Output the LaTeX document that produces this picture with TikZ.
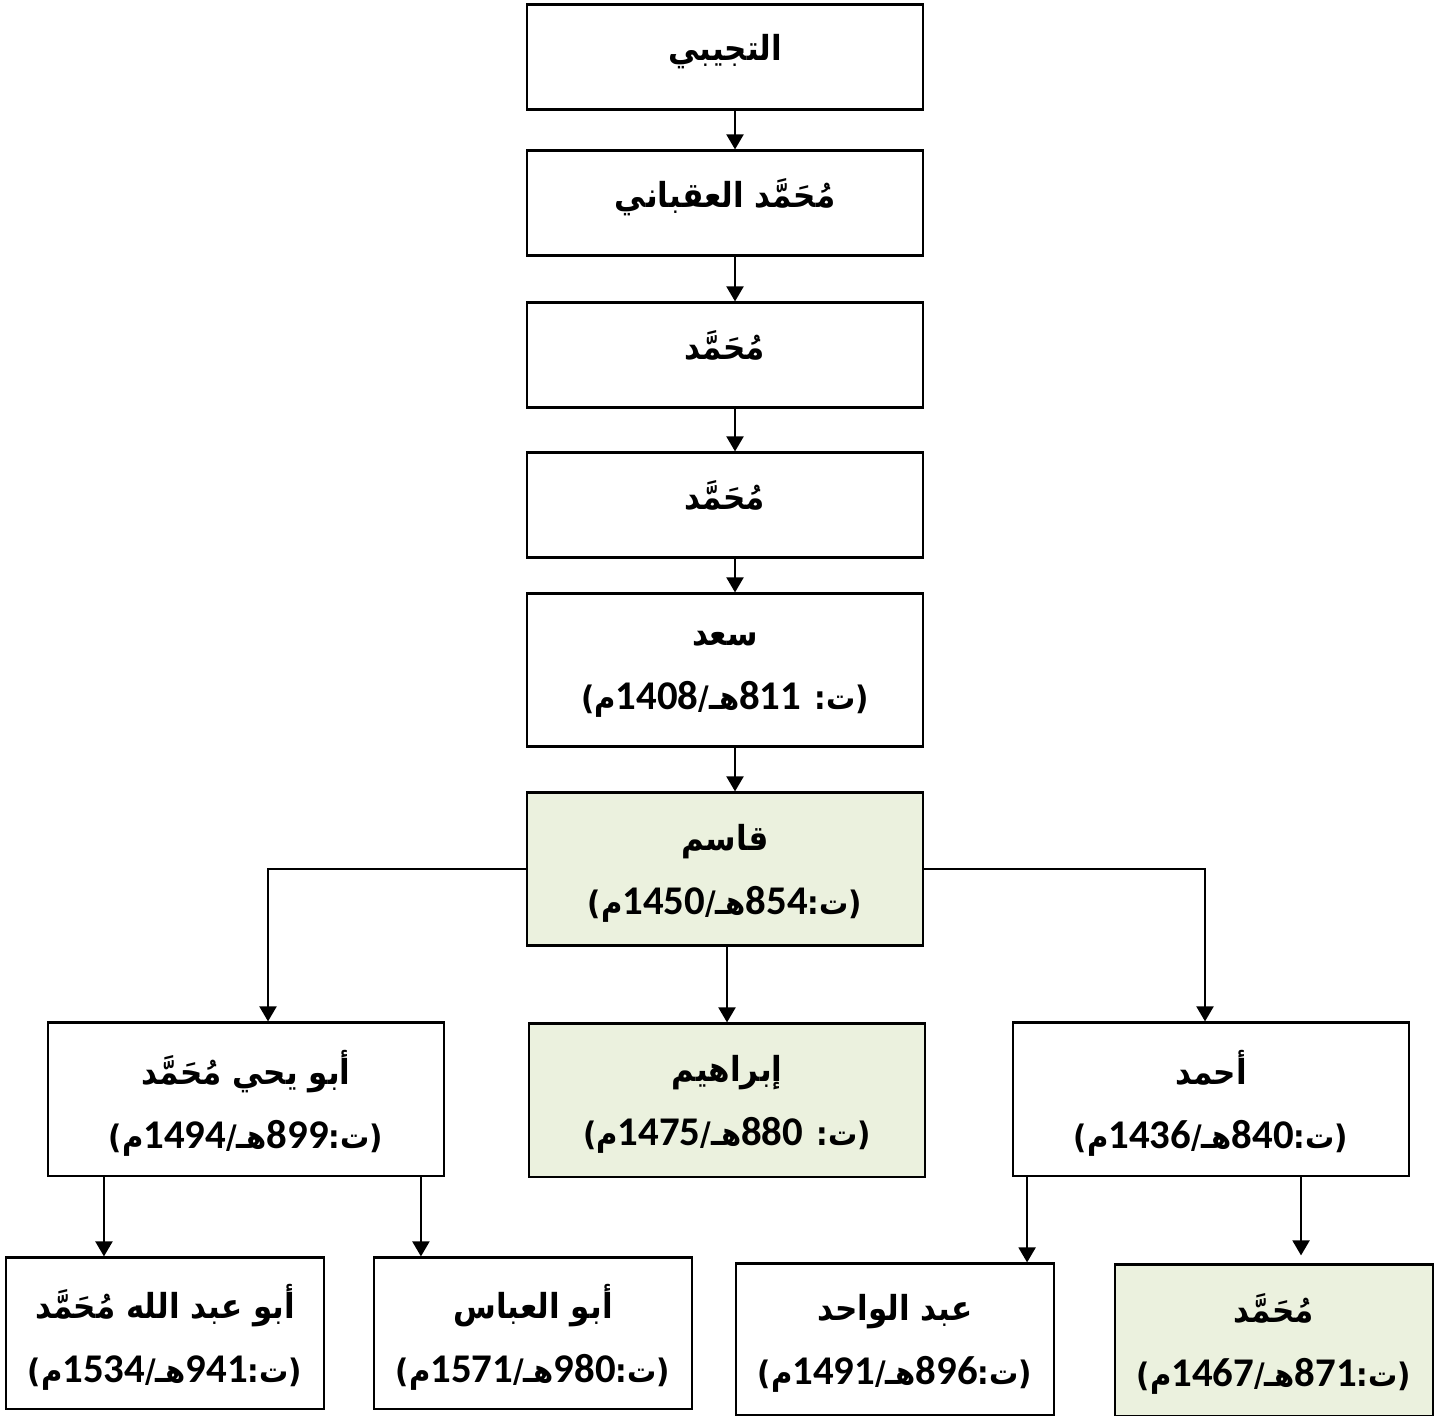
\documentclass[tikz,border=0pt]{standalone}
\usepackage{fontspec}
\TeXXeTstate=1
\newfontfamily\arabicfont[Script=Arabic]{DejaVu Sans Condensed}
\newfontfamily\numfont{Carlito}[BoldFont={Carlito Bold}, ItalicFont={Carlito Italic}, BoldItalicFont={Carlito Bold Italic}]
\usetikzlibrary{arrows.meta}
\definecolor{paleolive}{HTML}{EBF1DE}
\newcommand{\ism}[1]{{\arabicfont\bfseries\beginR #1\endR}}
\newcommand{\tarikh}[1]{{\arabicfont\bfseries\fontsize{9.2pt}{18pt}\selectfont\beginR #1\endR}}
\newcommand{\raqm}[1]{{\numfont\bfseries\upshape\fontsize{11.6pt}{12pt}\selectfont #1}}

\begin{document}
\begin{tikzpicture}[x=0.01cm, y=-0.01cm, line width=0.6pt, >={Triangle[width=0.17cm,length=0.15cm]},
    box/.style={draw, rectangle, inner sep=0pt, minimum width=3.96cm, align=center,
      font=\fontsize{9.8pt}{18.2pt}\selectfont},
    short/.style={minimum height=1.05cm, text depth=0.2cm},
    tall/.style={minimum height=1.53cm, text depth=0pt},
    kid/.style={minimum width=3.18cm, minimum height=1.51cm, text depth=0pt},
    marked/.style={fill=paleolive}]
    \useasboundingbox (0,0) rectangle (1446,1416);
    % line of fathers
    \node[box, short] (tujibi) at (725,57) {\ism{التجيبي}};
    \node[box, short] (uqbani) at (725,203) {\ism{مُحَمَّد العقباني}};
    \node[box, short] (muhA) at (725,355) {\ism{مُحَمَّد}};
    \node[box, short] (muhB) at (725,505) {\ism{مُحَمَّد}};
    \node[box, tall] (saad) at (725,670) {\ism{سعد}\\\tarikh{(ت: \raqm{811}هـ/\raqm{1408}م)}};
    \node[box, tall, marked] (qasim) at (725,869) {\ism{قاسم}\\\tarikh{(ت:\raqm{854}هـ/\raqm{1450}م)}};
    % sons of qasim
    \node[box, tall] (abuyahya) at (246,1099) {\ism{أبو يحي مُحَمَّد}\\\tarikh{(ت:\raqm{899}هـ/\raqm{1494}م)}};
    \node[box, tall, marked] (ibrahim) at (727,1100) {\ism{إبراهيم}\\\tarikh{(ت: \raqm{880}هـ/\raqm{1475}م)}};
    \node[box, tall] (ahmad) at (1211,1099) {\ism{أحمد}\\\tarikh{(ت:\raqm{840}هـ/\raqm{1436}م)}};
    % grandsons
    \node[box, kid] (abuabdallah) at (165,1333) {\ism{أبو عبد الله مُحَمَّد}\\\tarikh{(ت:\raqm{941}هـ/\raqm{1534}م)}};
    \node[box, kid] (abbas) at (533,1333) {\ism{أبو العباس}\\\tarikh{(ت:\raqm{980}هـ/\raqm{1571}م)}};
    \node[box, kid] (wahid) at (895,1339) {\ism{عبد الواحد}\\\tarikh{(ت:\raqm{896}هـ/\raqm{1491}م)}};
    \node[box, kid, marked] (muhC) at (1274,1340) {\ism{مُحَمَّد}\\\tarikh{(ت:\raqm{871}هـ/\raqm{1467}م)}};
    % arrows
    \foreach \a/\b in {tujibi/uqbani, uqbani/muhA, muhA/muhB, muhB/saad, saad/qasim}
      \draw[->] ([xshift=0.1cm]\a.south) -- ([xshift=0.1cm]\b.north);
    \draw[->] (ibrahim.north |- qasim.south) -- (ibrahim.north);
    \draw[->] (qasim.west) -| ([xshift=0.22cm]abuyahya.north);
    \draw[->] (qasim.east) -| ([xshift=-0.06cm]ahmad.north);
    \draw[->] ([xshift=-0.61cm]abuabdallah.north |- abuyahya.south) -- ([xshift=-0.61cm]abuabdallah.north);
    \draw[->] ([xshift=-1.12cm]abbas.north |- abuyahya.south) -- ([xshift=-1.12cm]abbas.north);
    \draw[->] ([xshift=1.32cm]wahid.north |- ahmad.south) -- ([xshift=1.32cm]wahid.north);
    \draw[->, shorten >=0.08cm] ([xshift=0.27cm]muhC.north |- ahmad.south) -- ([xshift=0.27cm]muhC.north);
\end{tikzpicture}
\end{document}
